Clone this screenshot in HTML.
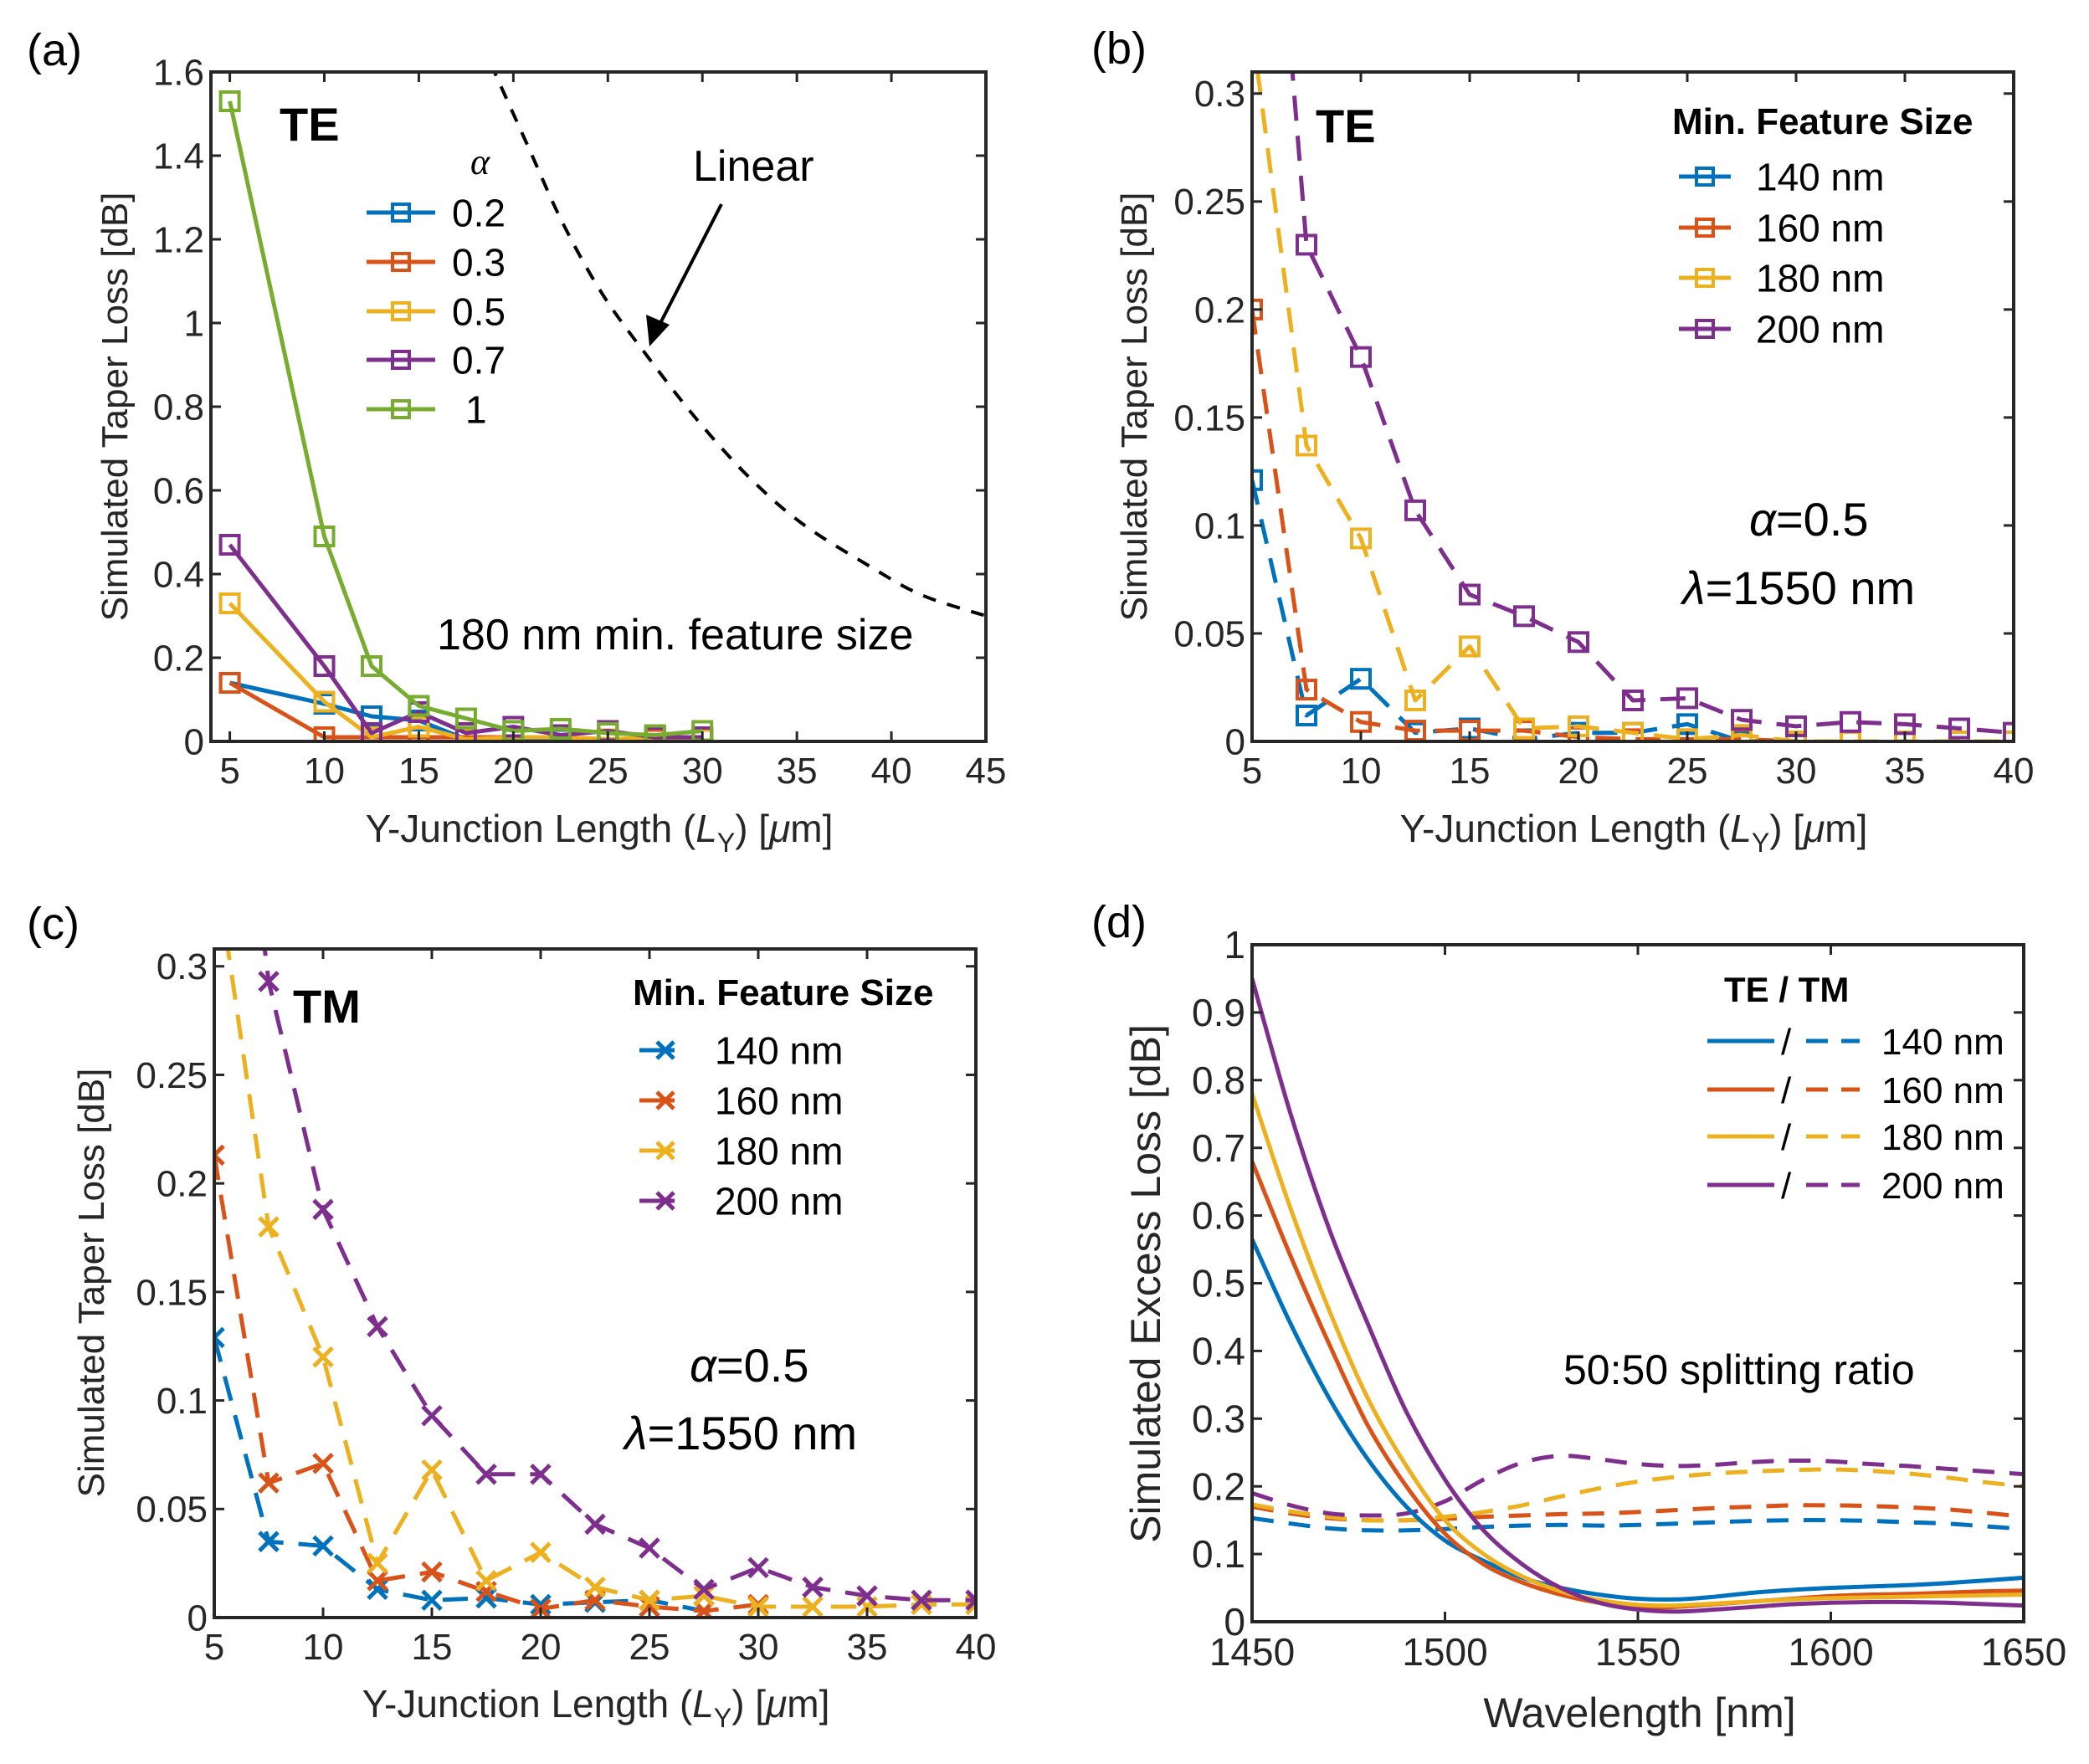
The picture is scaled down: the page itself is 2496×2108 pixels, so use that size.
<!DOCTYPE html>
<html><head><meta charset="utf-8"><style>
html,body{margin:0;padding:0;background:#fff;}
svg{display:block;font-family:"Liberation Sans",Arial,sans-serif;}
</style></head><body>
<svg id="fig" width="2496" height="2108" viewBox="0 0 2496 2108" xmlns="http://www.w3.org/2000/svg"></svg>
<script>
// ---------- DATA ----------
const colors = ["#0072BD","#D95319","#EDB120","#7E2F8E","#77AC30"];
// Panel (a)
const aX = [5,10,12.5,15,17.5,20,22.5,25,27.5,30];
const aAlphaLabels = ["0.2","0.3","0.5","0.7","1"];
const aA02 = [0.14,0.09,0.06,0.05,0.005,0.005,0.005,0.005,0.005,0.005];
const aA03 = [0.14,0.01,0.01,0.01,0.01,0.01,0.01,0.005,0.005,0.005];
const aA05 = [0.33,0.095,0.01,0.035,0.005,0.01,0.01,0.005,0.01,0.005];
const aA07 = [0.47,0.18,0.02,0.07,0.02,0.035,0.015,0.025,0.01,0.01];
const aA10 = [1.53,0.49,0.18,0.085,0.055,0.025,0.03,0.02,0.015,0.025];
const aLinX = [18.8,20.8,22.6,24.7,27.1,29.7,32.5,35.3,38.8,41.6,45];
const aLinY = [1.62,1.42,1.24,1.07,0.92,0.77,0.63,0.52,0.42,0.35,0.30];
const aXTicks = [5,10,15,20,25,30,35,40,45];
const aYTicks = [0,0.2,0.4,0.6,0.8,1,1.2,1.4,1.6];
const aYTickLabels = ["0","0.2","0.4","0.6","0.8","1","1.2","1.4","1.6"];
// Panel (b) TE
const bX = [5,7.5,10,12.5,15,17.5,20,22.5,25,27.5,30,32.5,35,37.5,40];
const bSizes = ["140 nm","160 nm","180 nm","200 nm"];
const b140 = [0.121,0.012,0.029,0.004,0.006,0.001,0.004,0.004,0.008,0.0,0.0];
const b160 = [0.2,0.024,0.009,0.005,0.005,0.005,0.002,0.001,0.001,0.001,0.0];
const b180 = [0.33,0.137,0.094,0.019,0.044,0.006,0.007,0.004,0.001,0.003,0.0,0.0,0.0,0.0,0.0];
const b200 = [0.54,0.23,0.178,0.107,0.068,0.058,0.046,0.019,0.02,0.01,0.007,0.009,0.008,0.006,0.004];
const bcYTicks = [0,0.05,0.1,0.15,0.2,0.25,0.3];
const bcYTickLabels = ["0","0.05","0.1","0.15","0.2","0.25","0.3"];
const bcXTicks = [5,10,15,20,25,30,35,40];
// Panel (c) TM
const c140 = [0.129,0.035,0.033,0.013,0.008,0.009,0.006,0.007,0.008,0.003];
const c160 = [0.213,0.062,0.071,0.017,0.021,0.012,0.004,0.008,0.005,0.003,0.006];
const c180 = [0.351,0.18,0.12,0.025,0.068,0.017,0.03,0.014,0.008,0.01,0.005,0.005,0.005,0.006,0.006];
const c200 = [0.5,0.293,0.188,0.134,0.093,0.066,0.066,0.043,0.032,0.013,0.023,0.014,0.01,0.008,0.008];
// Panel (d)
const dX = [1450,1460,1470,1480,1490,1500,1510,1520,1530,1540,1550,1560,1570,1580,1590,1600,1610,1620,1630,1640,1650];
const dTE140 = [0.565,0.44,0.33,0.24,0.17,0.12,0.09,0.065,0.05,0.04,0.034,0.033,0.037,0.043,0.047,0.05,0.052,0.054,0.057,0.061,0.065];
const dTE160 = [0.68,0.54,0.41,0.29,0.2,0.13,0.085,0.058,0.04,0.028,0.022,0.022,0.026,0.03,0.034,0.038,0.04,0.041,0.043,0.045,0.046];
const dTE180 = [0.78,0.61,0.46,0.33,0.23,0.15,0.1,0.067,0.045,0.032,0.025,0.024,0.027,0.03,0.033,0.035,0.036,0.037,0.038,0.039,0.04];
const dTE200 = [0.95,0.75,0.58,0.44,0.31,0.21,0.135,0.085,0.05,0.028,0.018,0.015,0.018,0.022,0.026,0.028,0.029,0.029,0.028,0.026,0.024];
const dTM140 = [0.153,0.145,0.138,0.135,0.135,0.137,0.14,0.142,0.143,0.142,0.143,0.145,0.147,0.149,0.15,0.15,0.149,0.147,0.145,0.141,0.137];
const dTM160 = [0.17,0.16,0.153,0.15,0.15,0.152,0.155,0.157,0.159,0.16,0.162,0.165,0.168,0.17,0.172,0.172,0.171,0.169,0.166,0.161,0.155];
const dTM180 = [0.173,0.163,0.155,0.15,0.15,0.155,0.162,0.172,0.185,0.197,0.207,0.214,0.219,0.222,0.224,0.225,0.223,0.219,0.213,0.206,0.2];
const dTM200 = [0.19,0.172,0.16,0.157,0.16,0.178,0.21,0.235,0.245,0.24,0.233,0.23,0.232,0.236,0.238,0.237,0.233,0.23,0.226,0.222,0.218];
const dXTicks = [1450,1500,1550,1600,1650];
const dYTicks = [0,0.1,0.2,0.3,0.4,0.5,0.6,0.7,0.8,0.9,1];
const dYTickLabels = ["0","0.1","0.2","0.3","0.4","0.5","0.6","0.7","0.8","0.9","1"];

// ---------- DRAW ----------
const NS = "http://www.w3.org/2000/svg";
const svg = document.getElementById("fig");
function mk(tag, attrs, parent, text){
  const e = document.createElementNS(NS, tag);
  for (const k in attrs) e.setAttribute(k, attrs[k]);
  if (text !== undefined) e.textContent = text;
  (parent || svg).appendChild(e);
  return e;
}
function makePanel(name, L, R, T, B, xmin, xmax, ymin, ymax){
  const g = mk("g", {});
  
  
  const clipId = name + "-clip";
  const cp = mk("clipPath", {id: clipId}, g);
  mk("rect", {x: L, y: T, width: R - L, height: B - T}, cp);
  const sx = v => L + (v - xmin) / (xmax - xmin) * (R - L);
  const sy = v => B - (v - ymin) / (ymax - ymin) * (B - T);
  const plot = mk("g", {"clip-path": "url(#" + clipId + ")"}, g);
  return {g, plot, sx, sy, L, R, T, B};
}
function axes(p, xt, xl, yt, yl, fs, xoff){
  const g = p.g;
  for (let i = 0; i < xt.length; i++){
    const x = p.sx(xt[i]);
    const t1 = mk("line", {x1: x, x2: x, y1: p.B, y2: p.B - 12, stroke: "#262626", "stroke-width": 3}, g);
    
    
    mk("line", {x1: x, x2: x, y1: p.T, y2: p.T + 12, stroke: "#262626", "stroke-width": 3}, g);
    const lab = mk("text", {x: x, y: p.B + xoff, "text-anchor": "middle", "font-size": fs, fill: "#262626"}, g, xl[i]);
    
    
  }
  for (let i = 0; i < yt.length; i++){
    const y = p.sy(yt[i]);
    const t1 = mk("line", {x1: p.L, x2: p.L + 12, y1: y, y2: y, stroke: "#262626", "stroke-width": 3}, g);
    
    
    mk("line", {x1: p.R, x2: p.R - 12, y1: y, y2: y, stroke: "#262626", "stroke-width": 3}, g);
    const lab = mk("text", {x: p.L - 8, y: y + fs * 0.35, "text-anchor": "end", "font-size": fs, fill: "#262626"}, g, yl[i]);
    
    
  }
  const box = mk("rect", {x: p.L, y: p.T, width: p.R - p.L, height: p.B - p.T, fill: "none", stroke: "#262626", "stroke-width": 4}, g);
  
  
}
function smoothPath(pts){
  let d = "M" + pts[0][0].toFixed(1) + "," + pts[0][1].toFixed(1);
  for (let i = 0; i < pts.length - 1; i++){
    const p0 = pts[Math.max(0, i - 1)], p1 = pts[i], p2 = pts[i + 1], p3 = pts[Math.min(pts.length - 1, i + 2)];
    const c1x = p1[0] + (p2[0] - p0[0]) / 6, c1y = p1[1] + (p2[1] - p0[1]) / 6;
    const c2x = p2[0] - (p3[0] - p1[0]) / 6, c2y = p2[1] - (p3[1] - p1[1]) / 6;
    d += "C" + c1x.toFixed(1) + "," + c1y.toFixed(1) + " " + c2x.toFixed(1) + "," + c2y.toFixed(1) + " " + p2[0].toFixed(1) + "," + p2[1].toFixed(1);
  }
  return d;
}
function series(p, xs, ys, color, dash, marker, name, smooth){
  const n = Math.min(xs.length, ys.length);
  let d = "";
  if (smooth){
    const pts = [];
    for (let i = 0; i < n; i++) pts.push([p.sx(xs[i]), p.sy(ys[i])]);
    d = smoothPath(pts);
  } else {
    for (let i = 0; i < n; i++) d += (i ? "L" : "M") + p.sx(xs[i]).toFixed(1) + "," + p.sy(ys[i]).toFixed(1);
  }
  const path = mk("path", {d: d, fill: "none", stroke: color, "stroke-width": 5, "stroke-linejoin": "round"}, p.plot);
  if (dash) path.setAttribute("stroke-dasharray", dash);
  
  
  if (!marker) return;
  for (let i = 0; i < n; i++){
    const x = p.sx(xs[i]), y = p.sy(ys[i]);
    let m;
    if (marker === "s") m = mk("rect", {x: x - 11, y: y - 11, width: 22, height: 22, fill: "none", stroke: color, "stroke-width": 4}, p.plot);
    else m = mk("path", {d: `M${x-11},${y-11}L${x+11},${y+11}M${x-11},${y+11}L${x+11},${y-11}`, stroke: color, "stroke-width": 5, fill: "none"}, p.plot);
    
    
  }
}
function txt(x, y, s, fs, opts, name){
  const a = Object.assign({x: x, y: y, "font-size": fs, fill: "#000"}, opts || {});
  const t = mk("text", a, svg, s);
  
  
  return t;
}
function legendEntry(x1, x2, y, color, dash, marker, label, tx, fs){
  const g = mk("g", {});
  
  
  const l = mk("line", {x1: x1, x2: x2, y1: y, y2: y, stroke: color, "stroke-width": 5}, g);
  if (dash) l.setAttribute("stroke-dasharray", dash);
  const mx = (x1 + x2) / 2 + (marker === "s" ? 0 : 10);
  if (marker === "s") mk("rect", {x: mx - 10, y: y - 10, width: 20, height: 20, fill: "none", stroke: color, "stroke-width": 4}, g);
  else if (marker === "x") mk("path", {d: `M${mx-10},${y-10}L${mx+10},${y+10}M${mx-10},${y+10}L${mx+10},${y-10}`, stroke: color, "stroke-width": 5}, g);
  mk("text", {x: tx, y: y + fs * 0.36, "font-size": fs, fill: "#000"}, g, label);
}
const ytitle = (x, y, s, fs) => txt(0, 0, s, fs, {transform: `translate(${x},${y}) rotate(-90)`, "text-anchor": "middle", fill: "#262626"}, "y-axis-title");

// ---- Panel (a)
const pa = makePanel("panel-a", 252, 1178, 86, 886, 4, 45, 0, 1.6);
axes(pa, aXTicks, aXTicks.map(String), aYTicks, aYTickLabels, 44, 50);
{
  const pts = [];
  for (let i = 0; i < aLinX.length; i++) pts.push([pa.sx(aLinX[i]), pa.sy(aLinY[i])]);
  const lin = mk("path", {d: smoothPath(pts), fill: "none", stroke: "#000", "stroke-width": 4, "stroke-dasharray": "16 14"}, pa.plot);
  
  
}
const aSeries = [aA02, aA03, aA05, aA07, aA10];
aSeries.forEach((s, i) => series(pa, aX, s, colors[i], null, "s", "alpha-" + aAlphaLabels[i] + "-line"));
txt(32, 78, "(a)", 54, {}, "panel-label-a");
txt(334, 168, "TE", 56, {"font-weight": "bold"}, "mode-label-te");
txt(562, 208, "α", 44, {"font-family": "Liberation Serif, serif", "font-style": "italic"}, "legend-title-alpha");
aAlphaLabels.forEach((l, i) => legendEntry(438, 520, [254, 313, 372, 430, 489][i], colors[i], null, "s", l, l === "1" ? 556 : 540, 46));
txt(828, 216, "Linear", 52, {}, "linear-label");
{
  const ar = mk("line", {x1: 862, y1: 244, x2: 786, y2: 392, stroke: "#000", "stroke-width": 4});
  
  
  const ah = mk("polygon", {points: "776,414 772,376 800,388"}, svg);
  
  
}
txt(522, 776, "180 nm min. feature size", 52, {}, "annotation-180nm");
ytitle(152, 486, "Simulated Taper Loss [dB]", 44);
const xt1 = txt(716, 1006, "", 46, {"text-anchor": "middle", fill: "#262626"}, "x-axis-title");
xt1.innerHTML = 'Y-Junction Length (<tspan font-style="italic">L</tspan><tspan font-size="32" dy="12">Y</tspan><tspan dy="-12">) [</tspan><tspan font-style="italic">μ</tspan>m]';

// ---- Panel (b)
const pb = makePanel("panel-b", 1496, 2406, 86, 886, 5, 40, 0, 0.31);
axes(pb, bcXTicks, bcXTicks.map(String), bcYTicks, bcYTickLabels, 44, 50);
[b140, b160, b180, b200].forEach((s, i) => series(pb, bX, s, colors[i], "30 18", "s", "te-" + bSizes[i].replace(" ", "") + "-line"));
txt(1304, 76, "(b)", 54, {}, "panel-label-b");
txt(1572, 170, "TE", 56, {"font-weight": "bold"}, "mode-label-te-b");
txt(1998, 160, "Min. Feature Size", 44, {"font-weight": "bold"}, "legend-title-b");
bSizes.forEach((l, i) => legendEntry(2006, 2068, [211, 272, 332, 393][i], colors[i], null, "s", l, 2098, 46));
txt(2090, 640, "", 56, {}, "alpha-annotation-b").innerHTML = '<tspan font-style="italic">α</tspan>=0.5';
txt(2010, 722, "", 56, {}, "lambda-annotation-b").innerHTML = '<tspan font-style="italic">λ</tspan>=1550 nm';
ytitle(1370, 486, "Simulated Taper Loss [dB]", 44);
const xt2 = txt(1952, 1006, "", 46, {"text-anchor": "middle", fill: "#262626"}, "x-axis-title-b");
xt2.innerHTML = 'Y-Junction Length (<tspan font-style="italic">L</tspan><tspan font-size="32" dy="12">Y</tspan><tspan dy="-12">) [</tspan><tspan font-style="italic">μ</tspan>m]';

// ---- Panel (c)
const pc = makePanel("panel-c", 256, 1166, 1134, 1933, 5, 40, 0, 0.308);
axes(pc, bcXTicks, bcXTicks.map(String), bcYTicks, bcYTickLabels, 44, 50);
[c140, c160, c180, c200].forEach((s, i) => series(pc, bX, s, colors[i], "30 18", "x", "tm-" + bSizes[i].replace(" ", "") + "-line"));
txt(32, 1122, "(c)", 54, {}, "panel-label-c");
txt(350, 1222, "TM", 56, {"font-weight": "bold"}, "mode-label-tm");
txt(756, 1201, "Min. Feature Size", 44, {"font-weight": "bold"}, "legend-title-c");
bSizes.forEach((l, i) => legendEntry(764, 806, [1255, 1315, 1375, 1435][i], colors[i], null, "x", l, 854, 46));
txt(824, 1651, "", 56, {}, "alpha-annotation-c").innerHTML = '<tspan font-style="italic">α</tspan>=0.5';
txt(746, 1732, "", 56, {}, "lambda-annotation-c").innerHTML = '<tspan font-style="italic">λ</tspan>=1550 nm';
ytitle(124, 1533, "Simulated Taper Loss [dB]", 44);
const xt3 = txt(712, 2052, "", 46, {"text-anchor": "middle", fill: "#262626"}, "x-axis-title-c");
xt3.innerHTML = 'Y-Junction Length (<tspan font-style="italic">L</tspan><tspan font-size="32" dy="12">Y</tspan><tspan dy="-12">) [</tspan><tspan font-style="italic">μ</tspan>m]';

// ---- Panel (d)
const pd = makePanel("panel-d", 1496, 2418, 1129, 1938, 1450, 1650, 0, 1);
axes(pd, dXTicks, dXTicks.map(String), dYTicks, dYTickLabels, 46, 52);
[dTM140, dTM160, dTM180, dTM200].forEach((s, i) => series(pd, dX, s, colors[i], "26 18", null, "tm-" + bSizes[i].replace(" ", "") + "-curve", true));
[dTE140, dTE160, dTE180, dTE200].forEach((s, i) => series(pd, dX, s, colors[i], null, null, "te-" + bSizes[i].replace(" ", "") + "-curve", true));
txt(1304, 1120, "(d)", 54, {}, "panel-label-d");
txt(2060, 1197, "TE / TM", 42, {"font-weight": "bold"}, "legend-title-d");
bSizes.forEach((l, i) => {
  const y = [1244, 1302, 1358, 1416][i];
  legendEntry(2040, 2120, y, colors[i], null, null, "/", 2128, 44);
  legendEntry(2158, 2222, y, colors[i], "26 16", null, l, 2248, 44);
});
txt(1868, 1654, "50:50 splitting ratio", 50, {}, "annotation-splitting-ratio");
ytitle(1386, 1534, "Simulated Excess Loss [dB]", 50);
txt(1959, 2064, "Wavelength [nm]", 50, {"text-anchor": "middle", fill: "#262626"}, "x-axis-title-d");
</script>
</body></html>
